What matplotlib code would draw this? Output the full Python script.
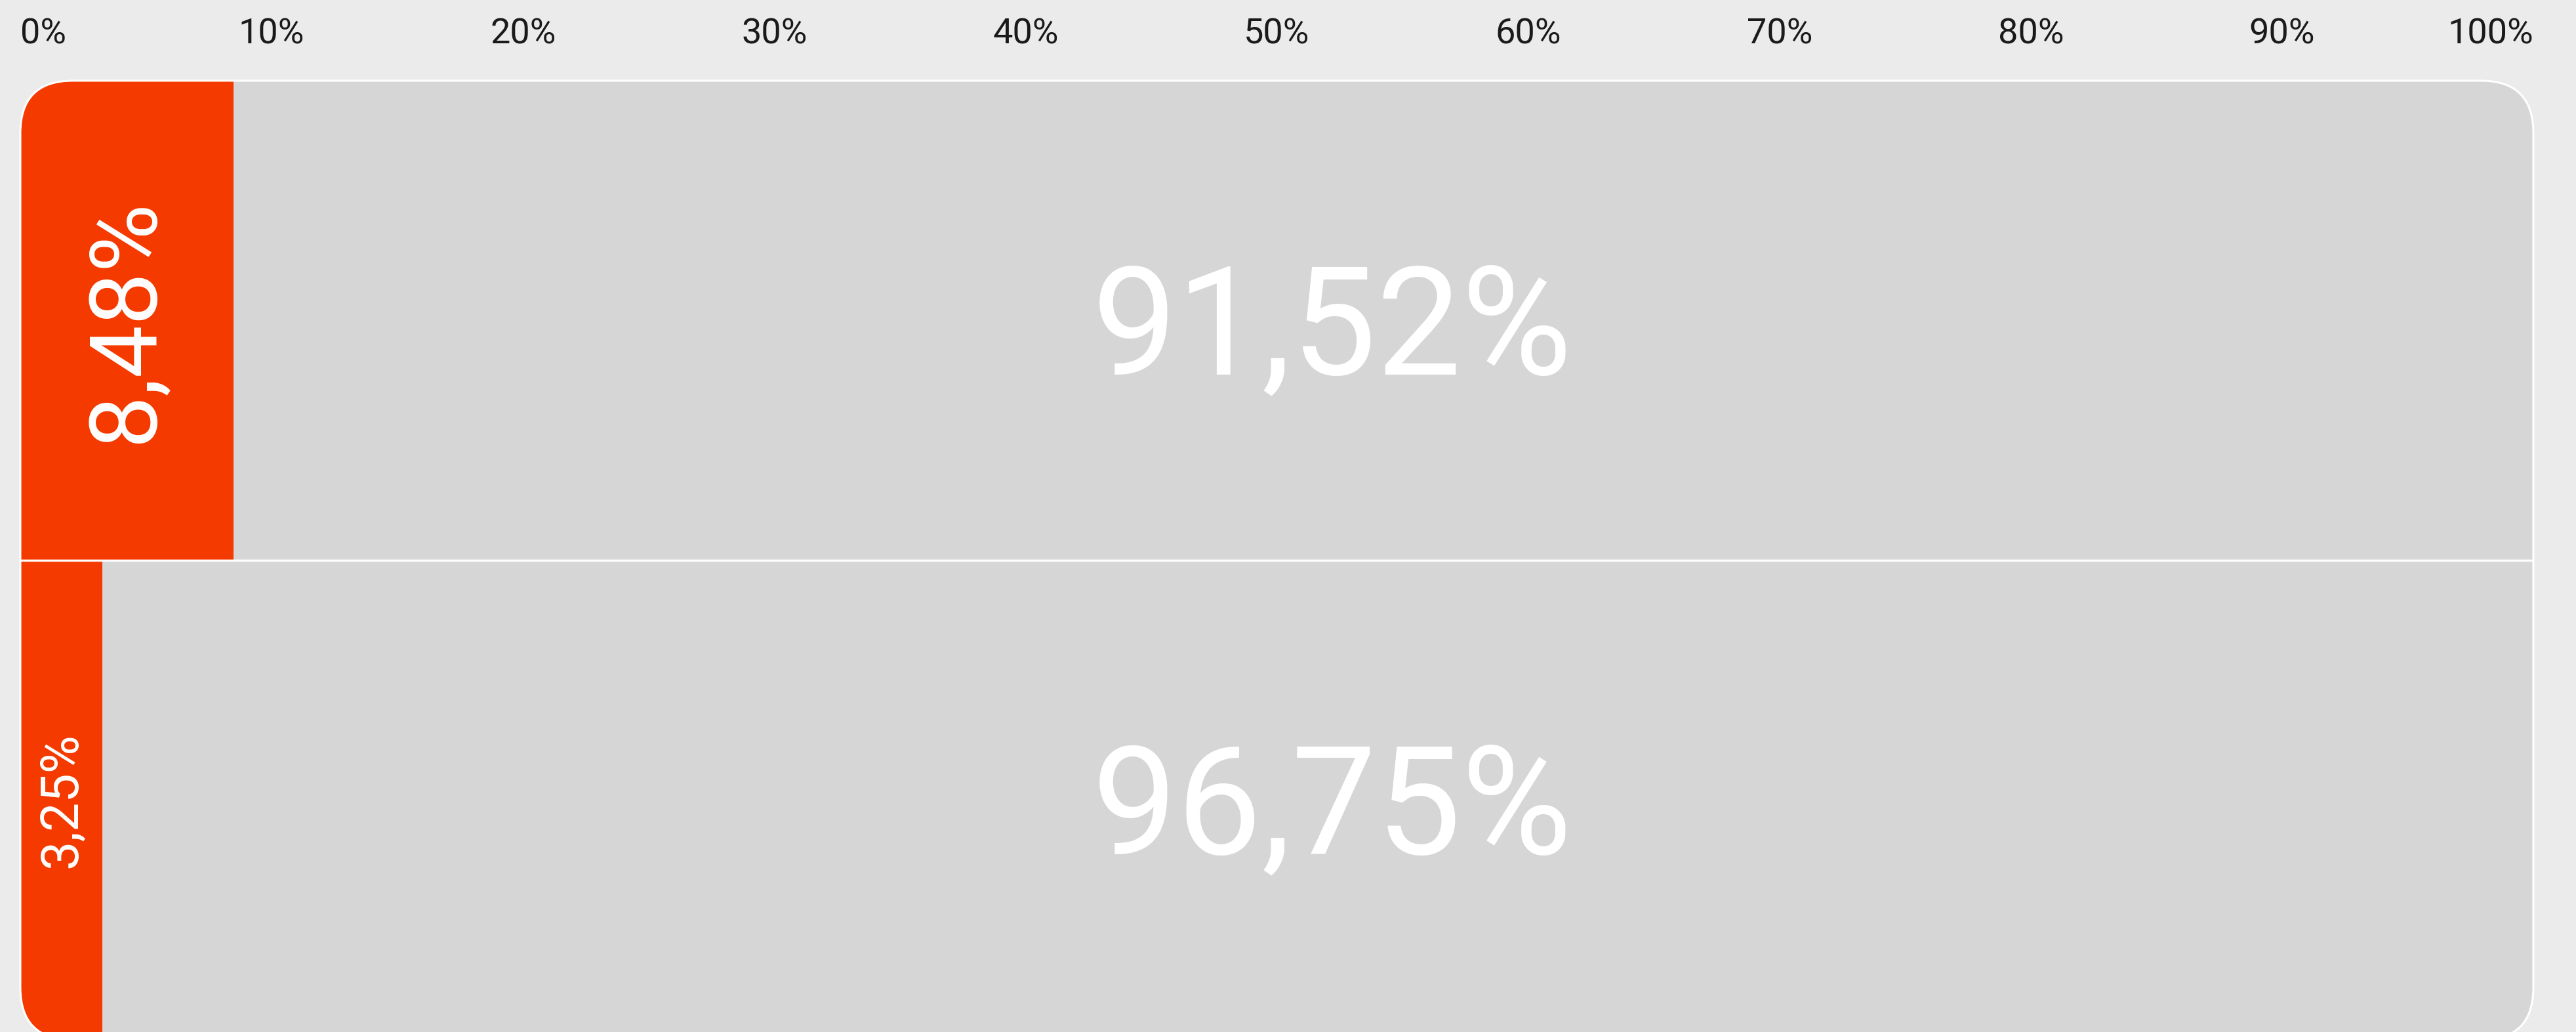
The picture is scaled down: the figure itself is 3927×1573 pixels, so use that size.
import matplotlib
matplotlib.use("Agg")
import matplotlib.pyplot as plt
from matplotlib.patches import FancyBboxPatch

# Datos
filas = [0, 1]
porcentaje_rojo = [8.48, 3.25]
porcentaje_gris = [91.52, 96.75]
etiquetas_rojo = ["8,48%", "3,25%"]
etiquetas_gris = ["91,52%", "96,75%"]
ticks = [0, 10, 20, 30, 40, 50, 60, 70, 80, 90, 100]
tick_labels = [f"{t}%" for t in ticks]

ROJO = "#F53A00"
GRIS = "#D6D6D6"
FONDO = "#EBEBEB"

plt.rcParams['font.family'] = ['Roboto', 'DejaVu Sans']

W, H, DPI = 3927, 1573, 100
fig = plt.figure(figsize=(W / DPI, H / DPI), dpi=DPI, facecolor=FONDO)

# caja del grafico en pixeles (se sale un poco por abajo)
left_px, right_px, top_px, alto_px = 31, 3862, 123, 1462
ax = fig.add_axes([left_px / W, 1 - (top_px + alto_px) / H,
                   (right_px - left_px) / W, alto_px / H])
ax.set_facecolor(FONDO)

bars_r = ax.barh(filas, porcentaje_rojo, height=1.0, color=ROJO, linewidth=0)
bars_g = ax.barh(filas, porcentaje_gris, left=porcentaje_rojo, height=1.0,
                 color=GRIS, linewidth=0)

ax.set_xlim(0, 100)
ax.set_ylim(1.5, -0.5)

# recorte con esquinas redondeadas
radio_px = 80
aspect = (right_px - left_px) / alto_px
estilo = f"round,pad=0,rounding_size={radio_px / (right_px - left_px)}"
caja = FancyBboxPatch((0, 0), 1, 1, boxstyle=estilo, mutation_aspect=aspect,
                      transform=ax.transAxes, facecolor="none", edgecolor="none")
ax.add_patch(caja)
for b in list(bars_r) + list(bars_g):
    b.set_clip_path(caja)

borde = FancyBboxPatch((0, 0), 1, 1, boxstyle=estilo, mutation_aspect=aspect,
                       transform=ax.transAxes, facecolor="none",
                       edgecolor="white", linewidth=2.2, clip_on=False)
ax.add_patch(borde)
sep = ax.axhline(0.5, color="white", linewidth=2.4)
sep.set_clip_path(caja)

# textos
tam_rojo = [103, 57]
for y, v, lab, fs in zip(filas, porcentaje_rojo, etiquetas_rojo, tam_rojo):
    ax.text(v / 2, y, lab, rotation=90, ha="center", va="center",
            color="white", fontsize=fs)
tam_gris = 166
for y, lab in zip(filas, etiquetas_gris):
    # linea base bajo el centro, media altura de las cifras
    ax.annotate(lab, (52.2, y), xytext=(0, -tam_gris * 0.711 / 2),
                textcoords="offset points", ha="center", va="baseline",
                color="white", fontsize=tam_gris)

# eje x arriba
ax.xaxis.tick_top()
ax.set_xticks(ticks)
ax.set_xticklabels(tick_labels, fontsize=39, color="#1a1a1a")
ax.tick_params(axis="x", length=0, pad=33)
ax.set_yticks([])
lbls = ax.get_xticklabels()
lbls[0].set_ha("left")
lbls[-1].set_ha("right")
for s in ax.spines.values():
    s.set_visible(False)

fig.savefig("out.png", dpi=DPI, facecolor=FONDO)
